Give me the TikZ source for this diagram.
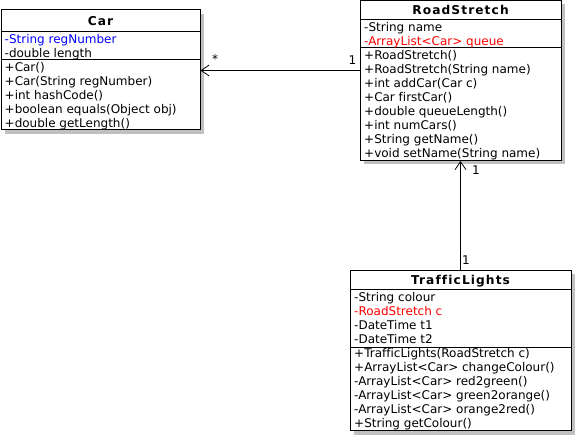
\documentclass[tikz,border=0pt]{standalone}
\usepackage{fontspec}
\setmainfont[Ligatures=NoCommon]{DejaVu Sans}
\newfontfamily\titlefont[LetterSpace=9,Ligatures=NoCommon]{DejaVu Sans Bold}
\usetikzlibrary{arrows.meta,shadows}
\definecolor{shadowgray}{RGB}{192,192,192}
\definecolor{attrblue}{RGB}{0,0,255}
\definecolor{attrred}{RGB}{255,0,0}
\tikzset{
  classbox/.style={draw, line width=1pt, fill=white, inner sep=0pt,
    drop shadow={shadow xshift=4pt, shadow yshift=-4pt, fill=shadowgray, opacity=1}},
  txt/.style={anchor=base west, inner sep=0pt, font=\fontsize{12}{14}\selectfont},
  ttl/.style={anchor=base, inner sep=0pt, font=\fontsize{12.2}{14}\titlefont},
  sep/.style={line width=1pt},
  assoc/.style={line width=1pt, -{Straight Barb[length=8pt,width=11pt,line width=0.8pt]}},
  mult/.style={inner sep=0pt, font=\fontsize{12}{14}\selectfont}
}
\begin{document}
\begin{tikzpicture}[x=1pt,y=-1pt]
\useasboundingbox (0,0) rectangle (575,435);
% Car
\node[classbox, minimum width=199pt, minimum height=120pt] (car) at (100.5,70) {};
\draw[sep] (car.west |- 0,32) -- (car.east |- 0,32);
\draw[sep] (car.west |- 0,60) -- (car.east |- 0,60);
\node[ttl] (carT) at (100.5,25.5) {Car};
\node[txt, text=attrblue] (c1) at (4.5,43.5) {-String regNumber};
\node[txt] (c2) at (4.5,57.5) {-double length};
\node[txt] (c3) at (4.5,71.5) {+Car()};
\node[txt] (c4) at (4.5,85.5) {+Car(String regNumber)};
\node[txt] (c5) at (4.5,99.5) {+int hashCode()};
\node[txt] (c6) at (4.5,113.5) {+boolean equals(Object obj)};
\node[txt] (c7) at (4.5,127.5) {+double getLength()};
% RoadStretch
\node[classbox, minimum width=201pt, minimum height=160pt] (rs) at (460.5,80.5) {};
\draw[sep] (rs.west |- 0,20) -- (rs.east |- 0,20);
\draw[sep] (rs.west |- 0,48) -- (rs.east |- 0,48);
\node[ttl] (rsT) at (460.5,14.5) {RoadStretch};
\node[txt] (r1) at (364,31.5) {-String name};
\node[txt, text=attrred] (r2) at (364,45.5) {-ArrayList<Car> queue};
\node[txt] (r3) at (364,59.5) {+RoadStretch()};
\node[txt] (r4) at (364,73.5) {+RoadStretch(String name)};
\node[txt] (r5) at (364,87.5) {+int addCar(Car c)};
\node[txt] (r6) at (364,101.5) {+Car firstCar()};
\node[txt] (r7) at (364,115.5) {+double queueLength()};
\node[txt] (r8) at (364,129.5) {+int numCars()};
\node[txt] (r9) at (364,143.5) {+String getName()};
\node[txt] (r10) at (364,157.5) {+void setName(String name)};
% TrafficLights
\node[classbox, minimum width=221pt, minimum height=160pt] (tl) at (460.5,350.5) {};
\draw[sep] (tl.west |- 0,290) -- (tl.east |- 0,290);
\draw[sep] (tl.west |- 0,347) -- (tl.east |- 0,347);
\node[ttl] (tlT) at (460.5,284.5) {TrafficLights};
\node[txt] (t1) at (354,301.5) {-String colour};
\node[txt, text=attrred] (t2) at (354,315.5) {-RoadStretch c};
\node[txt] (t3) at (354,329.5) {-DateTime t1};
\node[txt] (t4) at (354,343.5) {-DateTime t2};
\node[txt] (t5) at (354,357.5) {+TrafficLights(RoadStretch c)};
\node[txt] (t6) at (354,371.5) {+ArrayList<Car> changeColour()};
\node[txt] (t7) at (354,385.5) {-ArrayList<Car> red2green()};
\node[txt] (t8) at (354,399.5) {-ArrayList<Car> green2orange()};
\node[txt] (t9) at (354,413.5) {-ArrayList<Car> orange2red()};
\node[txt] (t10) at (354,427.5) {+String getColour()};
% connectors
\coordinate (h) at (0,70.5);
\draw[assoc] (rs.west |- h) -- (car.east |- h);
\draw[assoc] (tl.north) -- (rs.south);
\node[mult] (m1) at (215,59) {*};
\node[mult] (m2) at (352.5,60) {1};
\node[mult] (m3) at (476,170) {1};
\node[mult] (m4) at (466,260) {1};
\end{tikzpicture}
\end{document}
